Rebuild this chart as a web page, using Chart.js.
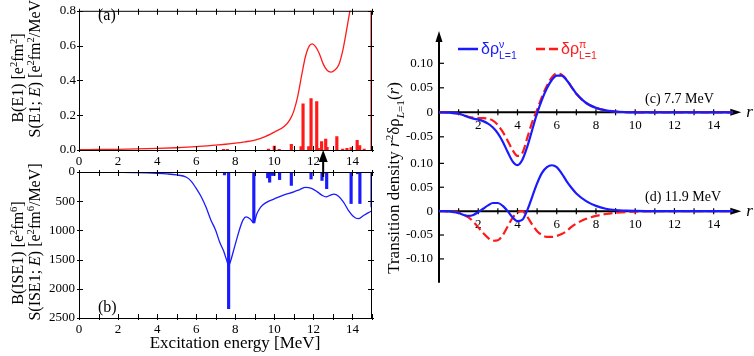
<!DOCTYPE html>
<html>
<head>
<meta charset="utf-8">
<script src="https://cdn.jsdelivr.net/npm/chart.js@4.4.1/dist/chart.umd.min.js"></script>
<style>
  html, body { margin: 0; padding: 0; background: #fff; }
  #figure { position: relative; width: 754px; height: 356px; overflow: hidden; background: #fff; }
  #figure canvas { position: absolute; }
</style>
</head>
<body>
<div id="figure">
  <canvas id="chart-b" width="390" height="201" style="left:0;top:155px"></canvas>
  <canvas id="chart-a" width="390" height="180" style="left:0;top:0"></canvas>
  <canvas id="chart-d" width="374" height="216" style="left:380px;top:140px"></canvas>
  <canvas id="chart-c" width="374" height="300" style="left:380px;top:0"></canvas>
</div>
<script>
// (a) E1 strength function and discrete B(E1)
const e1CurveEnergy = [0, 1, 2, 3, 4, 5, 6, 7, 7.5, 8, 8.5, 9, 9.5, 10, 10.5, 10.8, 11.0, 11.2, 11.4, 11.6, 11.8, 11.95, 12.1, 12.3, 12.5, 12.7, 12.9, 13.1, 13.3, 13.5, 13.7, 13.9, 14.1];
const e1CurveStrength = [0.002, 0.003, 0.004, 0.006, 0.009, 0.013, 0.019, 0.028, 0.033, 0.039, 0.047, 0.057, 0.075, 0.103, 0.135, 0.175, 0.225, 0.31, 0.43, 0.54, 0.6, 0.61, 0.595, 0.555, 0.495, 0.458, 0.448, 0.46, 0.49, 0.57, 0.69, 0.82, 0.96];
const e1BarEnergy = [7.4, 7.6, 9.7, 10.0, 10.25, 10.87, 11.37, 11.47, 11.76, 11.88, 12.17, 12.25, 12.42, 12.63, 12.7, 13.2, 13.5, 13.72, 13.93, 14.24, 14.37, 14.6, 15.0];
const e1BarStrength = [0.004, 0.004, 0.005, 0.022, 0.004, 0.033, 0.02, 0.265, 0.02, 0.296, 0.278, 0.01, 0.048, 0.063, 0.015, 0.077, 0.005, 0.01, 0.014, 0.056, 0.025, 0.005, 0.85];

// (b) ISE1 strength function and discrete B(ISE1)
const ise1CurveEnergy = [0, 1, 2, 3, 4, 4.5, 5, 5.5, 5.75, 6, 6.25, 6.5, 6.75, 7, 7.2, 7.4, 7.55, 7.66, 7.8, 7.95, 8.1, 8.25, 8.4, 8.55, 8.75, 8.95, 9.1, 9.3, 9.6, 10, 10.5, 11, 11.3, 11.6, 11.9, 12.2, 12.45, 12.65, 12.85, 13.05, 13.3, 13.55, 13.8, 14.05, 14.3, 14.55, 14.8, 15];
const ise1CurveStrength = [3, 4, 6, 10, 22, 32, 50, 90, 160, 280, 420, 600, 820, 1000, 1200, 1350, 1500, 1600, 1480, 1300, 1120, 950, 820, 770, 800, 870, 720, 600, 520, 460, 390, 340, 300, 262, 280, 340, 400, 425, 400, 380, 420, 520, 660, 760, 800, 750, 700, 665];
const ise1BarEnergy = [3.1, 7.45, 7.66, 8.95, 9.66, 9.76, 9.85, 9.98, 10.27, 10.87, 11.37, 11.47, 11.88, 12.44, 12.52, 12.68, 13.72, 13.93, 14.26, 14.38, 15.0];
const ise1BarStrength = [10, 50, 2340, 870, 100, 175, 60, 60, 130, 230, 12, 12, 120, 145, 20, 285, 12, 540, 30, 540, 600];

// (c), (d) transition densities r^2 drho(r)
const radius = [0, 0.25, 0.5, 0.75, 1, 1.25, 1.5, 1.75, 2, 2.25, 2.5, 2.75, 3, 3.25, 3.5, 3.75, 4, 4.25, 4.5, 4.75, 5, 5.25, 5.5, 5.75, 6, 6.25, 6.5, 6.75, 7, 7.5, 8, 8.5, 9, 9.5, 10, 11, 12, 13, 14, 15];
const neutron77 = [0, 0, -0.0005, -0.0015, -0.003, -0.006, -0.01, -0.013, -0.015, -0.018, -0.023, -0.031, -0.043, -0.06, -0.081, -0.1, -0.108, -0.097, -0.07, -0.036, -0.002, 0.026, 0.049, 0.066, 0.075, 0.075, 0.066, 0.052, 0.038, 0.019, 0.009, 0.004, 0.0015, 0.0005, 0, 0, 0, 0, 0, 0];
const proton77 = [0, 0, -0.0005, -0.0015, -0.003, -0.006, -0.009, -0.011, -0.012, -0.012, -0.013, -0.017, -0.026, -0.04, -0.058, -0.077, -0.089, -0.083, -0.052, -0.02, 0.005, 0.032, 0.054, 0.071, 0.079, 0.077, 0.067, 0.052, 0.038, 0.019, 0.009, 0.004, 0.0015, 0.0005, 0, 0, 0, 0, 0, 0];
const neutron119 = [0, 0, -0.0005, -0.002, -0.004, -0.008, -0.01, -0.008, -0.002, 0.005, 0.012, 0.017, 0.017, 0.011, 0, -0.013, -0.021, -0.018, 0.002, 0.03, 0.058, 0.08, 0.092, 0.096, 0.092, 0.079, 0.063, 0.049, 0.037, 0.021, 0.011, 0.005, 0.002, 0.001, 0.0005, 0, 0, 0, 0, 0];
const proton119 = [0, 0, -0.0005, -0.0015, -0.003, -0.007, -0.013, -0.022, -0.034, -0.046, -0.056, -0.062, -0.061, -0.05, -0.032, -0.014, -0.003, 0, -0.012, -0.028, -0.042, -0.05, -0.054, -0.054, -0.052, -0.048, -0.042, -0.033, -0.026, -0.016, -0.01, -0.006, -0.0035, -0.002, -0.001, -0.0002, 0, 0, 0, 0];

const SERIF = '"Liberation Serif", "Times New Roman", serif';
const SANS = '"Liberation Sans", Arial, sans-serif';
const RED = "#ff1a1a";
const BLUE = "#1a1aff";
const TICK_FONT = { family: SERIF, size: 13 };

Chart.defaults.color = "#000";
Chart.defaults.font.family = SERIF;

const toPoints = (xs, ys) => xs.map((x, i) => ({ x, y: ys[i] }));

// --- small rich-text helper for super/subscripts ---
const norm = (p) => (typeof p === "string" ? { t: p } : p);

function partWidth(ctx, p, size, fam) {
  const small = size * 0.66;
  const f = p.fam || fam;
  if (p.sup !== undefined) {
    ctx.font = `${small}px ${f}`;
    return Math.max(ctx.measureText(p.sup).width, ctx.measureText(p.sub).width);
  }
  ctx.font = `${p.it ? "italic " : ""}${p.s ? small : size}px ${f}`;
  return ctx.measureText(p.t).width;
}

function drawRich(ctx, parts, x, y, size, fam, align) {
  parts = parts.map(norm);
  const total = parts.reduce((w, p) => w + partWidth(ctx, p, size, fam), 0);
  let cx = align === "center" ? x - total / 2 : x;
  const small = size * 0.66;
  ctx.textAlign = "left";
  ctx.textBaseline = "alphabetic";
  parts.forEach((p) => {
    const w = partWidth(ctx, p, size, fam);
    const f = p.fam || fam;
    if (p.sup !== undefined) {
      ctx.font = `${small}px ${f}`;
      ctx.fillText(p.sup, cx, y - size * 0.36);
      ctx.fillText(p.sub, cx, y + size * 0.32);
    } else {
      ctx.font = `${p.it ? "italic " : ""}${p.s ? small : size}px ${f}`;
      const dy = p.s === "sup" ? -size * 0.38 : p.s === "sub" ? size * 0.3 : 0;
      ctx.fillText(p.t, cx, y + dy);
    }
    cx += w;
  });
}

function line(ctx, x1, y1, x2, y2) {
  ctx.beginPath();
  ctx.moveTo(x1, y1);
  ctx.lineTo(x2, y2);
  ctx.stroke();
}

// --- left panels (a) and (b) ---
function leftPanelPlugin(cfg) {
  return {
    id: "leftPanel",
    afterDatasetsDraw(chart) {
      const { ctx, chartArea: { left, right, top, bottom }, scales: { x, y } } = chart;
      ctx.save();
      ctx.strokeStyle = "#000";
      ctx.lineWidth = 1;
      ctx.strokeRect(left + 0.5, top + 0.5, right - left - 1, bottom - top);
      for (let i = 0; i <= 15; i++) {
        const px = Math.round(x.getPixelForValue(i)) + 0.5;
        line(ctx, px, top - 2, px, top + 4);
        line(ctx, px, bottom - 4, px, bottom + 2);
      }
      y.ticks.forEach((t) => {
        const py = Math.round(y.getPixelForValue(t.value)) + 0.5;
        line(ctx, left - 2, py, left + 4, py);
        line(ctx, right - 4, py, right + 2, py);
      });
      ctx.restore();
    },
    afterDraw(chart) {
      const { ctx, chartArea, scales: { x } } = chart;
      ctx.save();
      ctx.fillStyle = "#000";
      cfg.titles.forEach((tl) => {
        ctx.save();
        ctx.translate(tl.x, tl.y);
        ctx.rotate(-Math.PI / 2);
        drawRich(ctx, tl.parts, 0, 0, 16, SERIF, "center");
        ctx.restore();
      });
      ctx.font = `16px ${SERIF}`;
      ctx.textAlign = "left";
      ctx.textBaseline = "alphabetic";
      ctx.fillText(cfg.panel, cfg.panelX, cfg.panelY);
      if (cfg.xTitle) {
        ctx.font = `17px ${SERIF}`;
        ctx.textAlign = "center";
        ctx.fillText(cfg.xTitle, cfg.xTitleX, cfg.xTitleY);
      }
      if (cfg.arrowAt !== undefined) {
        const ax = x.getPixelForValue(cfg.arrowAt);
        const tip = chartArea.bottom;
        ctx.strokeStyle = "#000";
        ctx.lineWidth = 2;
        line(ctx, ax, tip + 10, ax, tip + 27);
        ctx.beginPath();
        ctx.moveTo(ax, tip);
        ctx.lineTo(ax - 4.5, tip + 12);
        ctx.lineTo(ax + 4.5, tip + 12);
        ctx.closePath();
        ctx.fill();
      }
      ctx.restore();
    }
  };
}

function energyAxis() {
  return {
    type: "linear",
    min: 0,
    max: 15,
    offset: false,
    grid: { display: false, drawTicks: false },
    border: { display: false },
    ticks: { stepSize: 2, includeBounds: false, autoSkip: false, maxRotation: 0, padding: 4, font: TICK_FONT, callback: (v) => String(v) },
    afterFit: (s) => { s.height = 20; }
  };
}

new Chart(document.getElementById("chart-a"), {
  type: "line",
  data: {
    datasets: [
      {
        data: toPoints(e1CurveEnergy, e1CurveStrength),
        borderColor: RED,
        borderWidth: 1.3,
        pointRadius: 0,
        cubicInterpolationMode: "monotone"
      },
      {
        type: "bar",
        data: toPoints(e1BarEnergy, e1BarStrength),
        backgroundColor: RED,
        barThickness: 2.5
      }
    ]
  },
  options: {
    responsive: false,
    animation: false,
    devicePixelRatio: 1,
    events: [],
    layout: { padding: { top: 4, right: 18, bottom: 10, left: 0 } },
    plugins: { legend: { display: false }, tooltip: { enabled: false } },
    scales: {
      x: energyAxis(),
      y: {
        min: 0,
        max: 0.8,
        grid: { display: false, drawTicks: false },
        border: { display: false },
        ticks: { stepSize: 0.2, padding: 3, font: TICK_FONT, callback: (v) => v.toFixed(1) },
        afterFit: (s) => { s.width = 79; }
      }
    }
  },
  plugins: [leftPanelPlugin({
    titles: [
      { x: 23, y: 78, parts: ["B(E1) [e", { t: "2", s: "sup" }, "fm", { t: "2", s: "sup" }, "]"] },
      { x: 40, y: 66, parts: ["S(E1; ", { t: "E", it: true }, ") [e", { t: "2", s: "sup" }, "fm", { t: "2", s: "sup" }, "/MeV]"] }
    ],
    panel: "(a)",
    panelX: 98,
    panelY: 20,
    arrowAt: 12.5
  })]
});

new Chart(document.getElementById("chart-b"), {
  type: "line",
  data: {
    datasets: [
      {
        data: toPoints(ise1CurveEnergy, ise1CurveStrength),
        borderColor: BLUE,
        borderWidth: 1.3,
        pointRadius: 0,
        cubicInterpolationMode: "monotone"
      },
      {
        type: "bar",
        data: toPoints(ise1BarEnergy, ise1BarStrength),
        backgroundColor: BLUE,
        barThickness: 2.5
      }
    ]
  },
  options: {
    responsive: false,
    animation: false,
    devicePixelRatio: 1,
    events: [],
    layout: { padding: { top: 17, right: 18, bottom: 18, left: 0 } },
    plugins: { legend: { display: false }, tooltip: { enabled: false } },
    scales: {
      x: energyAxis(),
      y: {
        reverse: true,
        min: 0,
        max: 2500,
        grid: { display: false, drawTicks: false },
        border: { display: false },
        ticks: { stepSize: 500, padding: 4, font: TICK_FONT, callback: (v) => String(v) },
        afterFit: (s) => { s.width = 79; }
      }
    }
  },
  plugins: [leftPanelPlugin({
    titles: [
      { x: 23, y: 98, parts: ["B(ISE1) [e", { t: "2", s: "sup" }, "fm", { t: "6", s: "sup" }, "]"] },
      { x: 40, y: 87, parts: ["S(ISE1; ", { t: "E", it: true }, ") [e", { t: "2", s: "sup" }, "fm", { t: "6", s: "sup" }, "/MeV]"] }
    ],
    panel: "(b)",
    panelX: 98,
    panelY: 157,
    xTitle: "Excitation energy [MeV]",
    xTitleX: 235,
    xTitleY: 193
  })]
});

// --- right panels (c) and (d) ---
function densityPlugin(cfg) {
  return {
    id: "densityAxes",
    beforeDatasetsDraw(chart) {
      const { ctx, chartArea: { top, bottom }, scales: { x, y } } = chart;
      const x0 = x.getPixelForValue(0);
      const y0 = y.getPixelForValue(0);
      const xEnd = x.getPixelForValue(15) + 8;
      ctx.save();
      ctx.strokeStyle = "#000";
      ctx.fillStyle = "#000";
      ctx.lineWidth = 2;
      // vertical axis
      const yTop = cfg.arrow ? top - 3 : top;
      line(ctx, x0, bottom, x0, cfg.arrow ? yTop + 8 : yTop);
      if (cfg.arrow) {
        ctx.beginPath();
        ctx.moveTo(x0, yTop);
        ctx.lineTo(x0 - 3.5, yTop + 11);
        ctx.lineTo(x0 + 3.5, yTop + 11);
        ctx.closePath();
        ctx.fill();
      }
      // horizontal axis with arrow
      line(ctx, x0, y0, xEnd - 8, y0);
      ctx.beginPath();
      ctx.moveTo(xEnd, y0);
      ctx.lineTo(xEnd - 11, y0 - 3.5);
      ctx.lineTo(xEnd - 11, y0 + 3.5);
      ctx.closePath();
      ctx.fill();
      ctx.lineWidth = 1.2;
      ctx.font = `13px ${SERIF}`;
      ctx.textAlign = "center";
      ctx.textBaseline = "middle";
      for (let i = 1; i <= 14; i++) {
        const px = x.getPixelForValue(i);
        line(ctx, px, y0 - 3, px, y0 + 3);
        if (i % 2 === 0) ctx.fillText(String(i), px, y0 + 13);
      }
      y.ticks.forEach((t) => {
        if (!t.label || Math.abs(t.value) < 1e-9) return;
        const py = y.getPixelForValue(t.value);
        line(ctx, x0, py, x0 + 5, py);
      });
      ctx.font = `italic 17px ${SERIF}`;
      ctx.textAlign = "left";
      ctx.textBaseline = "alphabetic";
      ctx.fillText("r", xEnd + 5, y0 + 5);
      ctx.font = `14px ${SERIF}`;
      ctx.fillText(cfg.panel, cfg.panelX, cfg.panelY);
      ctx.restore();
    },
    afterDraw(chart) {
      if (!cfg.legend) return;
      const ctx = chart.ctx;
      ctx.save();
      ctx.lineWidth = 2.5;
      ctx.strokeStyle = BLUE;
      line(ctx, 78, 49, 98, 49);
      ctx.fillStyle = BLUE;
      drawRich(ctx, [{ t: "δρ" }, { sup: "ν", sub: "L=1" }], 101, 54, 16, SANS, "left");
      ctx.strokeStyle = RED;
      ctx.setLineDash([9, 4]);
      line(ctx, 156, 49, 178, 49);
      ctx.setLineDash([]);
      ctx.fillStyle = RED;
      drawRich(ctx, [{ t: "δρ" }, { sup: "π", sub: "L=1" }], 181, 54, 16, SANS, "left");
      // vertical title shared by both density panels
      ctx.fillStyle = "#000";
      ctx.translate(19, 178);
      ctx.rotate(-Math.PI / 2);
      drawRich(ctx, [
        "Transition density ", { t: "r", it: true }, { t: "2", s: "sup" }, "δρ",
        { t: "L", s: "sub", it: true }, { t: "=1", s: "sub" }, "(", { t: "r", it: true }, ")"
      ], 0, 0, 17, SERIF, "center");
      ctx.restore();
    }
  };
}

function densityChart(id, neutron, proton, yMin, yMax, padTop, padBottom, labelValues, cfg) {
  return new Chart(document.getElementById(id), {
    type: "line",
    data: {
      datasets: [
        {
          data: toPoints(radius, neutron),
          borderColor: BLUE,
          borderWidth: 2.2,
          pointRadius: 0,
          cubicInterpolationMode: "monotone"
        },
        {
          data: toPoints(radius, proton),
          borderColor: RED,
          borderWidth: 2.2,
          borderDash: [9, 4],
          pointRadius: 0,
          cubicInterpolationMode: "monotone"
        }
      ]
    },
    options: {
      responsive: false,
      animation: false,
      devicePixelRatio: 1,
      events: [],
      layout: { padding: { top: padTop, right: 20.7, bottom: padBottom, left: 0 } },
      plugins: { legend: { display: false }, tooltip: { enabled: false } },
      scales: {
        x: { type: "linear", min: 0, max: 15, display: false },
        y: {
          min: yMin,
          max: yMax,
          grid: { display: false, drawTicks: false },
          border: { display: false },
          ticks: {
            stepSize: 0.05,
            includeBounds: false,
            padding: 6,
            font: TICK_FONT,
            callback: (v) => {
              const r = Math.round(v * 100) / 100;
              if (!labelValues.includes(r)) return "";
              return r === 0 ? "0" : r.toFixed(2);
            }
          },
          afterFit: (s) => { s.width = 59; }
        }
      }
    },
    plugins: [densityPlugin(cfg)]
  });
}

densityChart("chart-d", neutron119, proton119, -0.15, 0.12, 10.5, 73.2,
  [0.1, 0.05, 0, -0.05, -0.1],
  { arrow: false, panel: "(d) 11.9 MeV", panelX: 265, panelY: 61, legend: false });

densityChart("chart-c", neutron77, proton77, -0.12, 0.16, 33.9, 128.9,
  [0.1, 0.05, 0, -0.05],
  { arrow: true, panel: "(c) 7.7 MeV", panelX: 265, panelY: 103, legend: true });
</script>
</body>
</html>
